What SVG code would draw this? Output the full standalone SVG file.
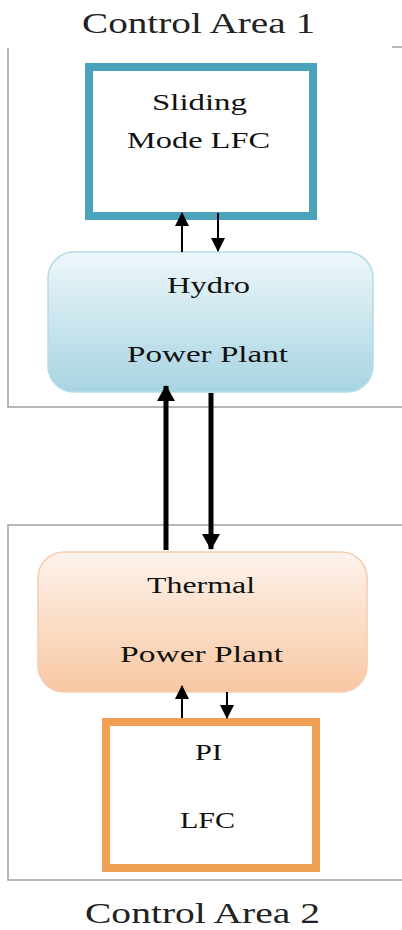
<svg xmlns="http://www.w3.org/2000/svg" width="402" height="930" viewBox="0 0 402 930">
<defs>
<linearGradient id="gHydro" x1="0" y1="0" x2="0" y2="1">
<stop offset="0" stop-color="#eef7fa"/>
<stop offset="1" stop-color="#a8d4e2"/>
</linearGradient>
<linearGradient id="gThermal" x1="0" y1="0" x2="0" y2="1">
<stop offset="0" stop-color="#fdf3ec"/>
<stop offset="1" stop-color="#f8c7a2"/>
</linearGradient>
<marker id="ahS" markerUnits="userSpaceOnUse" markerWidth="14" markerHeight="14" viewBox="0 0 14 14" refX="13" refY="7" orient="auto">
<path d="M0,0 L14,7 L0,14 Z" fill="#000"/>
</marker>
<marker id="ahL" markerUnits="userSpaceOnUse" markerWidth="16" markerHeight="18" viewBox="0 0 16 18" refX="15" refY="9" orient="auto">
<path d="M0,0 L16,9 L0,18 Z" fill="#000"/>
</marker>
</defs>
<style>
.area{fill:none;stroke:#a0a0a0;stroke-width:1.5}
.title{font-family:"Liberation Serif",serif;font-size:29px;fill:#222}
.lbl{font-family:"Liberation Serif",serif;font-size:23px;fill:#111}
.thin{stroke:#000;stroke-width:2;fill:none}
.thick{stroke:#000;stroke-width:5;fill:none}
</style>
<g id="area1">
<path class="area" d="M8,48 V407 H402 M392,47 H402"/>
<text class="title" x="82" y="33" textLength="233" lengthAdjust="spacingAndGlyphs">Control Area 1</text>
</g>
<g id="area2">
<path class="area" d="M402,525 H8 V880 H402"/>
<text class="title" x="85" y="923" textLength="235" lengthAdjust="spacingAndGlyphs">Control Area 2</text>
</g>
<g id="sliding">
<rect x="89" y="67" width="224" height="149" fill="#fff" stroke="#4aa3bb" stroke-width="8"/>
<text class="lbl" x="152" y="110" textLength="95" lengthAdjust="spacingAndGlyphs">Sliding</text>
<text class="lbl" x="127" y="148" textLength="143" lengthAdjust="spacingAndGlyphs">Mode LFC</text>
</g>
<g id="hydro">
<rect x="48" y="252" width="325" height="140" rx="26" ry="26" fill="url(#gHydro)" stroke="#b4dbe8" stroke-width="1.5"/>
<text class="lbl" x="167" y="293" textLength="83" lengthAdjust="spacingAndGlyphs">Hydro</text>
<text class="lbl" x="127" y="362" textLength="161" lengthAdjust="spacingAndGlyphs">Power Plant</text>
</g>
<g id="thermal">
<rect x="38" y="552" width="329" height="140" rx="26" ry="26" fill="url(#gThermal)" stroke="#f5cdb0" stroke-width="1.5"/>
<text class="lbl" x="147" y="593" textLength="108" lengthAdjust="spacingAndGlyphs">Thermal</text>
<text class="lbl" x="120" y="662" textLength="163" lengthAdjust="spacingAndGlyphs">Power Plant</text>
</g>
<g id="pi">
<rect x="106" y="722" width="210" height="146" fill="#fff" stroke="#f0a055" stroke-width="8"/>
<text class="lbl" x="195" y="760" textLength="27" lengthAdjust="spacingAndGlyphs">PI</text>
<text class="lbl" x="180" y="828" textLength="55" lengthAdjust="spacingAndGlyphs">LFC</text>
</g>
<g id="connectors">
<line class="thin" x1="182" y1="252" x2="182" y2="213" marker-end="url(#ahS)"/>
<line class="thin" x1="218" y1="213" x2="218" y2="251" marker-end="url(#ahS)"/>
<line class="thick" x1="166" y1="550" x2="166" y2="386" marker-end="url(#ahL)"/>
<line class="thick" x1="211" y1="393" x2="211" y2="549" marker-end="url(#ahL)"/>
<line class="thin" x1="182" y1="718" x2="182" y2="686" marker-end="url(#ahS)"/>
<line class="thin" x1="227" y1="692" x2="227" y2="718" marker-end="url(#ahS)"/>
</g>
</svg>
